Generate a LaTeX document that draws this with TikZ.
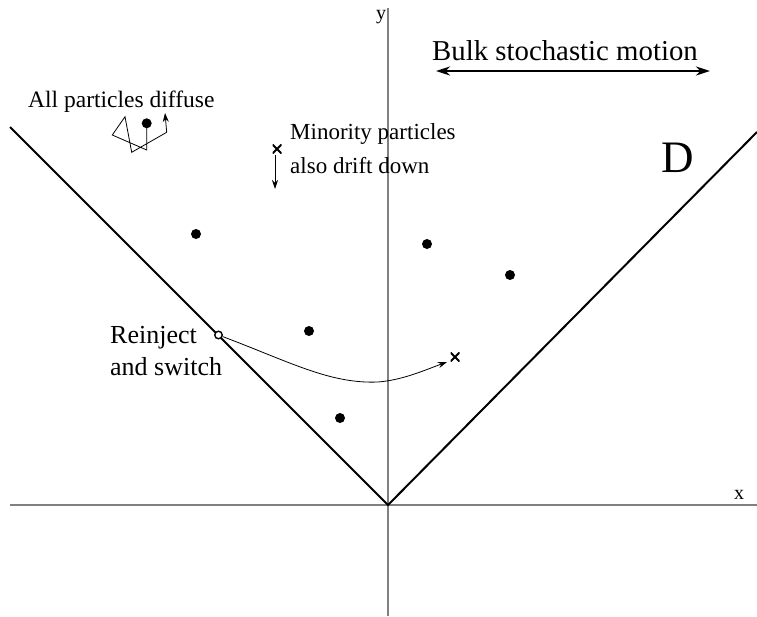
\documentclass[tikz,border=0pt]{standalone}
\usepackage{fontspec}
\setmainfont{Liberation Serif}
\usetikzlibrary{arrows.meta}
\begin{document}
\begin{tikzpicture}[x=1pt,y=-1pt,
  axis/.style={draw=gray, line width=1.2pt},
  wall/.style={draw=black, line width=2pt},
  dot/.style={circle, fill=black, inner sep=0pt, minimum size=10pt},
  xmark/.style={inner sep=0pt, minimum size=9pt, path picture={\draw[line width=1.8pt] (path picture bounding box.north west) -- (path picture bounding box.south east) (path picture bounding box.north east) -- (path picture bounding box.south west);}},
  lbl/.style={inner sep=0pt, align=left},
  tip/.style={-{Stealth[length=9pt,width=6pt]}}]
\useasboundingbox (0,0) rectangle (757,616);
% axes
\coordinate (ytop) at (388,8);
\coordinate (ybot) at (388,616);
\coordinate (xl) at (10,505);
\coordinate (xr) at (757,505);
\coordinate (O) at (388,505);
\draw[axis] (ytop) -- (ybot);
\draw[axis] (xl) -- (xr);
\node[lbl, font=\fontsize{20}{24}\selectfont, anchor=base] (ylab) at (381,19) {y};
\node[lbl, font=\fontsize{20}{24}\selectfont, anchor=base] (xlab) at (739,499) {x};
% wedge
\coordinate (wl) at (10,127);
\coordinate (wr) at (757,132);
\draw[wall] (wl) -- (O) -- (wr);
\node[font=\fontsize{45}{50}\selectfont, inner sep=0pt, anchor=base] (D) at (678,172) {D};
% dots
\node[dot] (d1) at (196,234) {};
\node[dot] (d2) at (427,244) {};
\node[dot] (d3) at (510,275) {};
\node[dot] (d4) at (309,331) {};
\node[dot] (d5) at (340,418) {};
% bulk motion
\node[lbl, font=\fontsize{28.8}{32}\selectfont, anchor=base west] (bulk) at (432,60) {Bulk stochastic motion};
\coordinate (bl) at (436,71);
\coordinate (br) at (710,71);
\draw[line width=2.6pt, {Stealth[length=14pt,width=9pt]}-{Stealth[length=14pt,width=9pt]}] (bl) -- (br);
% diffuse
\node[lbl, font=\fontsize{23.5}{28}\selectfont, anchor=base west] (diff) at (28,107) {All particles diffuse};
\node[dot] (dd) at (146.7,123.3) {};
\coordinate (p1) at (146.7,150);
\coordinate (p2) at (112.3,135);
\coordinate (p3) at (125,116.7);
\coordinate (p4) at (131.7,152.3);
\coordinate (p5) at (166.7,132.3);
\coordinate (p6) at (165,113);
\draw[line width=0.8pt] (dd.center) -- (p1) -- (p2) -- (p3) -- (p4) -- (p5);
\draw[line width=0.8pt, tip] (p5) -- (p6);
% minority
\node[xmark] (mx) at (277,149) {};
\coordinate (ma) at (275,189);
\coordinate (ms) at (275,155);
\draw[line width=0.8pt, tip] (ms) -- (ma);
\node[lbl, font=\fontsize{23}{34}\selectfont, anchor=base west] (min) at (290,173) {Minority particles\\also drift down};
% reinject
\node[lbl, font=\fontsize{26}{32}\selectfont, anchor=base west] (rein) at (110,375) {Reinject\\and switch};
\node[circle, draw, line width=1.4pt, inner sep=0pt, minimum size=7.5pt, fill=white] (oc) at (218.5,335) {};
\node[xmark] (cx) at (455,357) {};
\coordinate (mid) at (378,382);
\coordinate (ct) at (447,362);
\draw[line width=0.8pt, tip] (oc) .. controls (290,362) and (330,384) .. (mid) .. controls (403,380) and (425,370) .. (ct);
\end{tikzpicture}
\end{document}
